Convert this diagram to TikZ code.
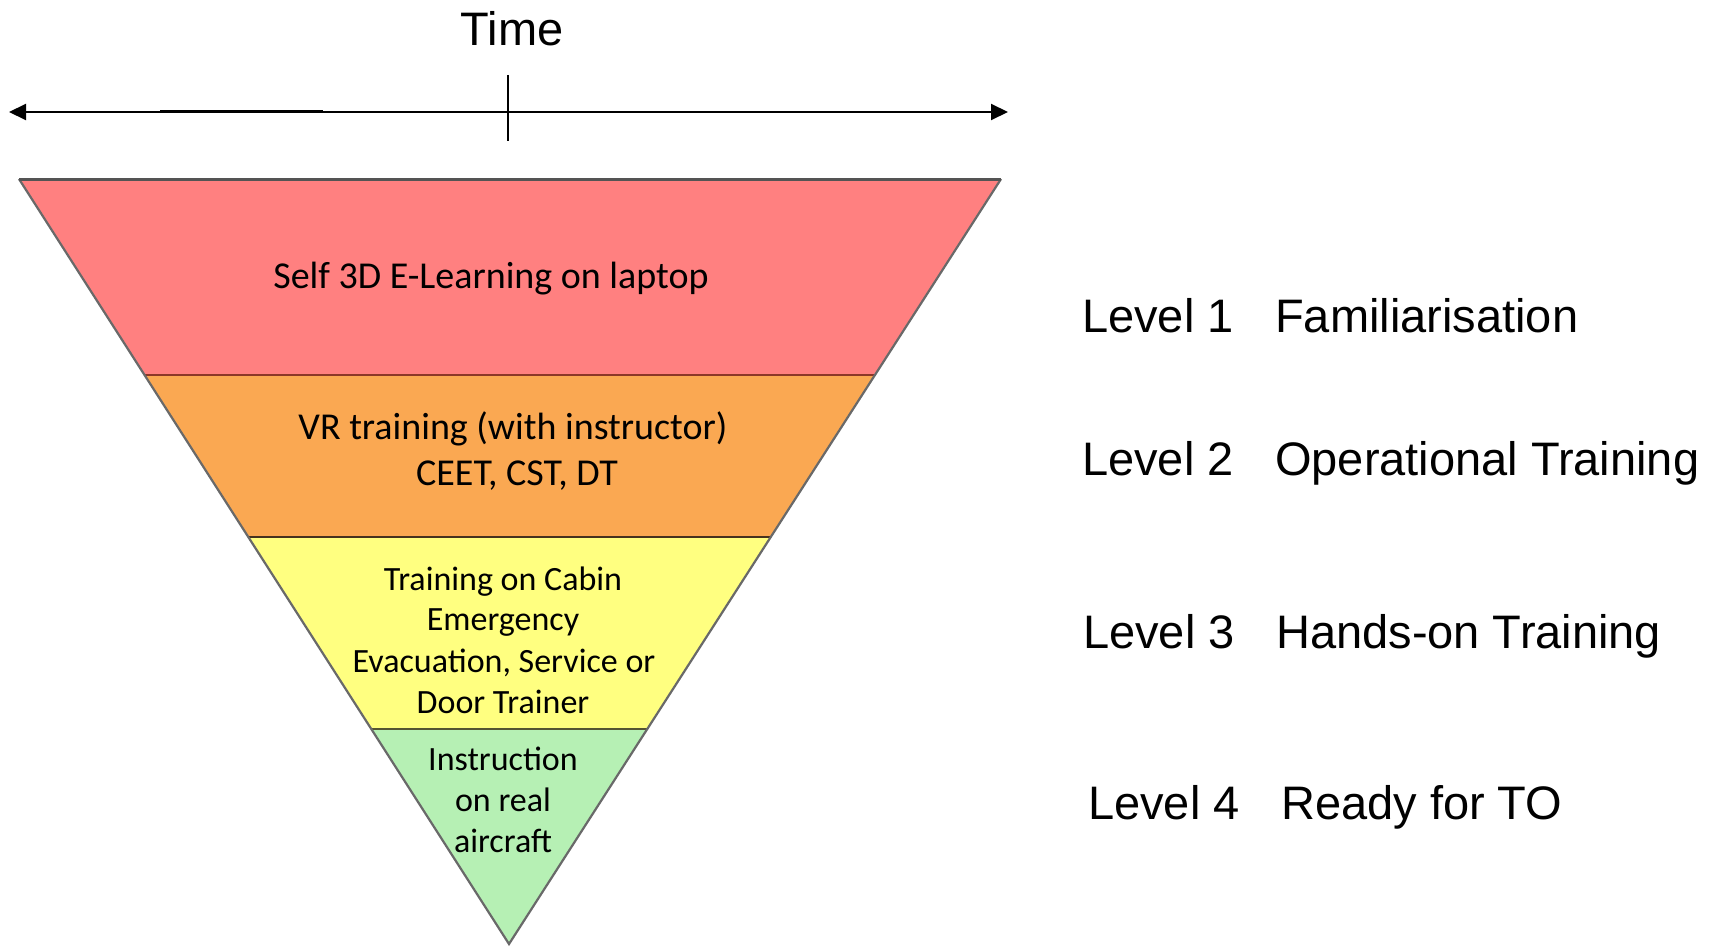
\documentclass[tikz,border=0pt]{standalone}
\usepackage{fontspec}
\setmainfont{Liberation Sans}
\newfontfamily\calfont{Carlito}
\usetikzlibrary{calc,arrows.meta}
\definecolor{bandred}{RGB}{255,128,128}
\definecolor{bandorange}{RGB}{250,168,82}
\definecolor{bandyellow}{RGB}{255,255,128}
\definecolor{bandgreen}{RGB}{182,240,180}
\definecolor{edgegrey}{RGB}{105,105,105}
\definecolor{div1}{RGB}{140,55,40}
\definecolor{div2}{RGB}{70,50,30}
\definecolor{div3}{RGB}{85,85,50}
\begin{document}
\begin{tikzpicture}[x=1pt,y=-1pt,
  timeaxis/.style={line width=2pt,{Triangle[length=17pt,width=16pt]}-{Triangle[length=17pt,width=16pt]}},
  bigtxt/.style={font=\fontsize{47}{56}\selectfont,inner sep=0pt,anchor=base west},
  bandtxt/.style={font=\calfont\fontsize{38}{46}\selectfont,inner sep=0pt,align=center,anchor=base},
  smalltxt/.style={font=\calfont\fontsize{34}{41}\selectfont,inner sep=0pt,align=center,anchor=base},
  divider/.style={line width=2.2pt}]
\useasboundingbox (0,0) rectangle (1723,947);
% time axis
\node[font=\fontsize{47}{56}\selectfont,inner sep=0pt,anchor=base] (time) at (512,46) {Time};
\coordinate (tL) at (9,112);
\coordinate (tR) at (1008,112);
\coordinate (tickT) at (508,75);
\coordinate (tickB) at (508,141);
\draw[timeaxis] (tL) -- (tR);
\draw[line width=2.6pt] (tickT) -- (tickB);
\coordinate (thA) at (160,111.5);
\coordinate (thB) at (323,111.5);
\draw[line width=3pt] (thA) -- (thB);
% triangle
\coordinate (A) at (19,179);
\coordinate (B) at (1001,179);
\coordinate (C) at (509,944);
\coordinate (L1) at ($(A)!0.2562!(C)$);
\coordinate (R1) at ($(B)!0.2562!(C)$);
\coordinate (L2) at ($(A)!0.4680!(C)$);
\coordinate (R2) at ($(B)!0.4680!(C)$);
\coordinate (L3) at ($(A)!0.7190!(C)$);
\coordinate (R3) at ($(B)!0.7190!(C)$);
\fill[bandred] (A) -- (B) -- (R1) -- (L1) -- cycle;
\fill[bandorange] (L1) -- (R1) -- (R2) -- (L2) -- cycle;
\fill[bandyellow] (L2) -- (R2) -- (R3) -- (L3) -- cycle;
\fill[bandgreen] (L3) -- (R3) -- (C) -- cycle;
\draw[divider,div1] (L1) -- (R1);
\draw[divider,div2] (L2) -- (R2);
\draw[divider,div3] (L3) -- (R3);
\draw[edgegrey,line width=2.2pt,line join=miter] (A) -- (C) -- (B);
\draw[edgegrey!80!black,line width=3pt] (A) -- (B);
% band texts
\node[bandtxt] (t1) at (491,288) {Self 3D E-Learning on laptop};
\node[bandtxt] (t2a) at (513,439) {VR training (with instructor)};
\node[bandtxt] (t2b) at (517,485) {CEET, CST, DT};
\node[smalltxt] (t3a) at (503,590) {Training on Cabin};
\node[smalltxt] (t3b) at (503,630) {Emergency};
\node[smalltxt] (t3c) at (504,672) {Evacuation, Service or};
\node[smalltxt] (t3d) at (503,713) {Door Trainer};
\node[smalltxt] (t4a) at (503,770) {Instruction};
\node[smalltxt] (t4b) at (503,811) {on real};
\node[smalltxt] (t4c) at (503,852) {aircraft};
% levels
\node[bigtxt] (lv1) at (1082,332) {Level 1};
\node[bigtxt] (nm1) at (1275,332) {Familiarisation};
\node[bigtxt] (lv2) at (1082,475) {Level 2};
\node[bigtxt] (nm2) at (1275,475) {Operational Training};
\node[bigtxt] (lv3) at (1083,648) {Level 3};
\node[bigtxt] (nm3) at (1276,648) {Hands-on Training};
\node[bigtxt] (lv4) at (1088,819) {Level 4};
\node[bigtxt] (nm4) at (1281,819) {Ready for TO};
\end{tikzpicture}
\end{document}
